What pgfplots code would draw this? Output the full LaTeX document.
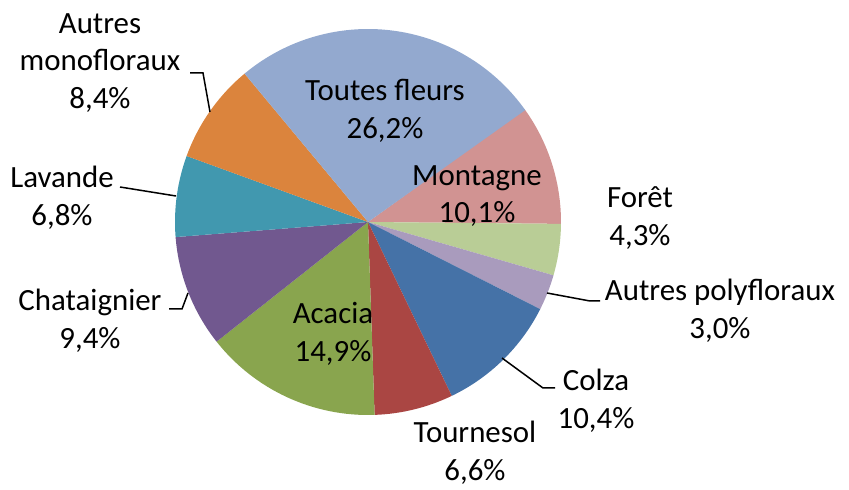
\documentclass[border=0pt]{standalone}
\usepackage{pgfplots}
\usepackage{pgfplotstable}
\pgfplotsset{compat=1.18}
\usepackage{fontspec}
\setmainfont{Carlito}

\definecolor{cTF}{HTML}{93A9CF}
\definecolor{cMo}{HTML}{D19392}
\definecolor{cFo}{HTML}{B9CD96}
\definecolor{cAP}{HTML}{A99BBD}
\definecolor{cCo}{HTML}{4572A7}
\definecolor{cTo}{HTML}{AA4643}
\definecolor{cAc}{HTML}{89A54E}
\definecolor{cCh}{HTML}{71588F}
\definecolor{cLa}{HTML}{4198AF}
\definecolor{cAM}{HTML}{DB843D}

\pgfplotstableread[col sep=comma]{
name,value,color
Montagne,10.1,cMo
Foret,4.3,cFo
AutresPoly,3.0,cAP
Colza,10.4,cCo
Tournesol,6.6,cTo
Acacia,14.9,cAc
Chataignier,9.4,cCh
Lavande,6.8,cLa
AutresMono,8.4,cAM
ToutesFleurs,26.2,cTF
}\piedata

\begin{document}
\begin{tikzpicture}
\begin{axis}[
  scale only axis, x=1bp, y=1bp,
  xmin=0, xmax=849, ymin=0, ymax=490,
  hide axis, clip=false,
]
\def\cum{35.8}
\pgfplotsforeachungrouped \i in {0,...,9}{%
  \pgfplotstablegetelem{\i}{value}\of\piedata \let\v\pgfplotsretval
  \pgfplotstablegetelem{\i}{color}\of\piedata \let\c\pgfplotsretval
  \pgfmathsetmacro\endang{\cum - 3.6*\v}%
  \edef\temp{\noexpand\fill[\c] (axis cs:368,268) -- +(\cum:193bp) arc[start angle=\cum, end angle=\endang, radius=193bp] -- cycle;}%
  \temp
  \global\let\cum\endang
}
\tikzset{lbl/.style={font=\fontsize{31}{38}\selectfont, align=center, inner sep=0pt, text=black}}
\node[lbl] at (axis cs:385,379) {Toutes fleurs\\26,2\%};
\node[lbl] at (axis cs:477,294) {Montagne\\10,1\%};
\node[lbl] at (axis cs:640,272) {Forêt\\4,3\%};
\node[lbl] at (axis cs:720,179) {Autres polyfloraux\\3,0\%};
\node[lbl] at (axis cs:596,89) {Colza\\10,4\%};
\node[lbl] at (axis cs:475,37) {Tournesol\\6,6\%};
\node[lbl] at (axis cs:333,156) {Acacia\\14,9\%};
\node[lbl] at (axis cs:90,169) {Chataignier\\9,4\%};
\node[lbl] at (axis cs:62,292) {Lavande\\6,8\%};
\node[lbl] at (axis cs:100,427) {Autres\\monofloraux\\8,4\%};
\tikzset{ll/.style={line width=1.5bp, black}}
\draw[ll] (axis cs:190,417) -- (axis cs:203,417) -- (axis cs:210,378);
\draw[ll] (axis cs:120,303) -- (axis cs:176,294);
\draw[ll] (axis cs:169,181) -- (axis cs:182,181) -- (axis cs:188,197);
\draw[ll] (axis cs:547,197) -- (axis cs:590,189) -- (axis cs:600,189);
\draw[ll] (axis cs:502,132) -- (axis cs:543,102) -- (axis cs:555,102);
\end{axis}
\pgfresetboundingbox
\path (0,0) rectangle (849bp,490bp);
\end{tikzpicture}
\end{document}
